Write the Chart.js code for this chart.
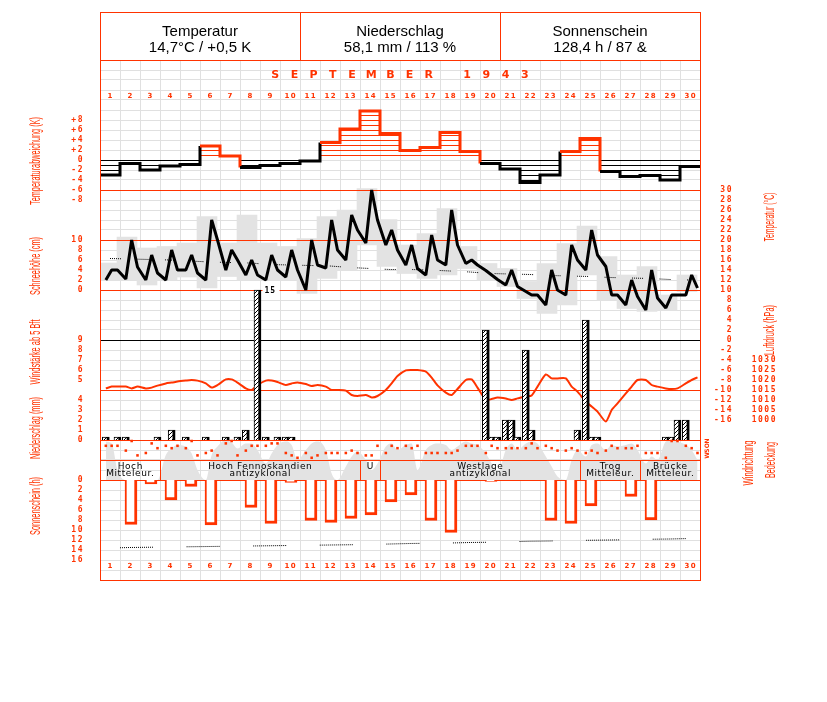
<!DOCTYPE html>
<html lang="de">
<head>
<meta charset="utf-8">
<title>September 1943</title>
<script src="https://cdn.jsdelivr.net/npm/chart.js@4.4.1/dist/chart.umd.min.js"></script>
<style>
  html, body { margin: 0; padding: 0; background: #fff; }
  canvas { display: block; }
</style>
</head>
<body>
<canvas id="monat" width="827" height="702"></canvas>
<script>
// ---- Werte ----
const dayNumbers = [1, 2, 3, 4, 5, 6, 7, 8, 9, 10, 11, 12, 13, 14, 15, 16, 17, 18, 19, 20, 21, 22, 23, 24, 25, 26, 27, 28, 29, 30];
const monthTitle = 'SEPTEMBER 1943';
const headerCells = [
  ['Temperatur', '14,7°C / +0,5 K'],
  ['Niederschlag', '58,1 mm / 113 %'],
  ['Sonnenschein', '128,4 h / 87 &']
];
const obsHours = [7, 14, 21];   // Terminbeobachtungen

// Tagesabweichung der Temperatur (K)
const tempAnomaly = [-3, -0.7, -2, -1.2, -0.9, 2.8, 0.8, -1.5, -1.1, -0.7, -0.2, 3.5, 6.2, 9.8, 5.3,
  1.9, 2.5, 5.5, 1.7, -0.7, -1.8, -4.5, -3, 1.7, 4.3, -2.3, -3.3, -3.1, -4, -1.3];
// Temperatur 7h/14h/21h (°C)
const tempObs = [
  12, 14, 14,   12.2, 20, 14.6,   12, 17, 13.4,   12, 18, 14,   14, 17, 13.4,
  12, 24, 20,   14, 18, 16,       13, 16, 13,     12, 17, 14,   12.6, 18, 14,
  10, 20, 15,   14.4, 24, 18,     16, 25, 22,     19.4, 30, 24, 19, 22, 18,
  15, 19, 14.3, 13, 21, 16,       15, 26, 19,     15.3, 16, 15, 13.9, 13, 12.1,
  11, 14, 10.7, 9.7, 9, 9,        7, 14, 10,      9, 19, 16,    14, 22, 17,
  14.7, 9, 9,   7, 12, 8.7,       6, 14, 8.4,     6.4, 9, 9,    9, 13, 10.4
];
const tempMin = [12, 12, 11, 12, 12.6, 10.4, 12.7, 12, 12, 12, 9.3, 12.3, 14, 19, 14.7,
  13.3, 12.3, 13, 14.3, 12, 10.7, 8.3, 5.3, 7, 13, 8, 6.3, 5.7, 6, 9.7];
const tempMax = [15.4, 20.6, 18.4, 18.7, 19.4, 24.7, 19.4, 25, 19.4, 18.7, 20.3, 24.7, 26, 30.3, 24.1,
  19, 21.3, 26.3, 18.7, 15.3, 14.3, 11.7, 15.3, 19.3, 22.8, 16.7, 13, 14.7, 9, 13];
const tempNormal = [16.3, 16.2, 16.1, 16.0, 15.8, 15.6, 15.5, 15.4, 15.1, 15.0, 14.9, 14.8, 14.5, 14.3, 14.1,
  14.1, 14.0, 13.8, 13.6, 13.3, 13.2, 13.1, 12.9, 12.8, 12.7, 12.5, 12.4, 12.3, 12.1, 12.0];
// Niederschlag je Termin (mm)
const precipObs = [
  0.3, 0, 0.3,  0.3, 0, 0,  0, 0, 0.3,  0, 1, 0,  0.3, 0, 0,
  0.3, 0, 0,    0.3, 0, 0.3, 1, 0, 15,  0.3, 0, 0.3, 0.3, 0.3, 0,
  0, 0, 0,  0, 0, 0,  0, 0, 0,  0, 0, 0,  0, 0, 0,
  0, 0, 0,  0, 0, 0,  0, 0, 0,  0, 0, 0,  11, 0.3, 0.3,
  2, 2, 0.3,  9, 1, 0,  0, 0, 0,  0, 0, 1,  12, 0.3, 0.3,
  0, 0, 0,  0, 0, 0,  0, 0, 0,  0.3, 0.3, 2,  2, 0, 0
];
// Luftdruck je Termin (hPa)
const pressureObs = [
  1015.8, 1016.7, 1016.7,  1016.7, 1015.8, 1016.7,  1015.8, 1016.2, 1017.2,  1018.3, 1018.7, 1019.2,  1019.7, 1020, 1019.7,
  1018.3, 1016.2, 1017.5,  1020.3, 1020.3, 1018.7,  1015.8, 1015, 1017.5,    1019.7, 1019.7, 1019,    1017.5, 1018.3, 1018.8,
  1018, 1017, 1017.5,      1016.7, 1015, 1015,      1014.7, 1012.5, 1012,    1012.5, 1011.3, 1012,    1015, 1018.3, 1022,
  1024.8, 1025, 1025,      1024.2, 1021.2, 1017.3,  1013.7, 1012.5, 1015.5,  1020, 1020.3, 1016.2,    1010, 1010.5, 1011.2,
  1010.7, 1010, 1010.8,    1011.7, 1012.3, 1016.7,  1022.8, 1020.8, 1020.8,  1020.8, 1016.7, 1014.2,  1009.2, 1006.7, 1004.2,
  999.2, 1005, 1008.3,     1013.3, 1016.7, 1020,    1020, 1017.5, 1016.7,    1015.8, 1015.5, 1015.8,  1018.3, 1020, 1021.3
];
// Bedeckung je Termin (Achtel)
const cloudObs = [
  7.7, 7.3, 2,  0, 0, 0,  0, 0, 0,  5, 6.3, 7,  6.7, 5.3, 2,
  0, 5, 6.7,  8, 7.5, 6.3,  7.3, 7.3, 6,  3.3, 5.3, 7,  7.7, 7, 4,
  6, 7.3, 7.7,  6, 1.3, 0,  2.7, 4.7, 5.7,  4, 2, 3.3,  6.7, 7.3, 6,
  7, 7.3, 2,  6, 7, 7.3,  7, 6, 6.7,  7.7, 7.3, 7,  5.3, 3.3, 1.3,
  6, 7.3, 6,  7.3, 7.7, 7.3,  4.7, 2.7, 0.7,  0, 4, 6,  4.7, 7, 7.3,
  6, 7, 6.7,  7, 7.3, 6,  3.3, 4.7, 4,  7.7, 8, 7.7,  7, 6, 4
];
// Windrichtung je Termin (0 = N, 2 = O, 4 = S, 6 = W)
const windDirObs = [
  2, 2, 2,  4, 0, 6,  5, 1, 3,  2, 3, 2,  3, 0, 6,
  5, 4, 6,  1, 0, 6,  4, 2, 2,  2, 1, 1,  5, 6, 7,
  5, 7, 6,  5, 5, 5,  5, 4, 5,  6, 6, 2,  5, 2, 3,
  2, 3, 2,  5, 5, 5,  5, 5, 4,  2, 2, 2,  5, 2, 3,
  3, 3, 3,  3, 1, 3,  2, 3, 4,  4, 3, 4,  5, 4, 5,
  4, 2, 3,  3, 3, 2,  5, 5, 5,  7, 0, 0,  2, 3, 5
];
const windDirLabels = ['N', 'O', 'S', 'W'];
const windDirLabelIdx = [0, 2, 4, 6];
// Sonnenscheindauer (h) und astronomisch mögliche Dauer
const sunshineHours = [0, 8.9, 0.8, 4, 1.3, 9, 0, 5.5, 8.7, 0.5, 8.1, 8.5, 7.7, 7, 4.4,
  3, 8.1, 10.5, 0, 0.3, 0, 0, 8.1, 8.7, 5.2, 0, 3.3, 8, 0, 0];
const sunshinePossible = [13.6, 13.5, 13.45, 13.4, 13.35, 13.3, 13.25, 13.2, 13.15, 13.1, 13.05, 13.0, 12.95, 12.9, 12.8,
  12.7, 12.65, 12.6, 12.5, 12.45, 12.35, 12.25, 12.2, 12.1, 12.05, 12.0, 11.95, 11.85, 11.8, 11.7];
// Großwetterlagen
const weatherTypes = [
  { first: 1, last: 3, text: ['Hoch', 'Mitteleur.'] },
  { first: 4, last: 13, text: ['Hoch Fennoskandien', 'antizyklonal'] },
  { first: 14, last: 14, text: ['U'] },
  { first: 15, last: 24, text: ['Westlage', 'antizyklonal'] },
  { first: 25, last: 27, text: ['Trog', 'Mitteleur.'] },
  { first: 28, last: 30, text: ['Brücke', 'Mitteleur.'] }
];
// Achsbeschriftungen
const anomalyTicks = [8, 6, 4, 2, 0, -2, -4, -6, -8];
const snowTicks = [10, 8, 6, 4, 2, 0];
const windForceTicks = [9, 8, 7, 6, 5];
const precipTicks = [4, 3, 2, 1, 0];
const sunTicks = [0, 2, 4, 6, 8, 10, 12, 14, 16];
const tempTicks = [30, 28, 26, 24, 22, 20, 18, 16, 14, 12, 10, 8, 6, 4, 2, 0, -2, -4, -6, -8, -10, -12, -14, -16];
const pressureTicks = [1030, 1025, 1020, 1015, 1010, 1005, 1000];
const tempRefLines = [30, 20, 10];

const RED = '#ff3300';
const GREY = '#e3e3e3';
const GRID = '#e0e0e0';

function slotX(i) { return Math.floor(i / 3) + obsHours[i % 3] / 24; }

// Schraffuren
function hatchH(color) {
  const c = document.createElement('canvas');
  c.width = 4; c.height = 5;
  const g = c.getContext('2d');
  g.fillStyle = color;
  g.fillRect(0, 0, 4, 1);
  return g.createPattern(c, 'repeat');
}
function hatchD() {
  const c = document.createElement('canvas');
  c.width = 4; c.height = 4;
  const g = c.getContext('2d');
  g.fillStyle = '#fff'; g.fillRect(0, 0, 4, 4);
  g.fillStyle = '#000';
  for (let i = 0; i < 4; i++) g.fillRect(i, 3 - i, 1, 1);
  return g.createPattern(c, 'repeat');
}
function dotted(run, gap) {
  const a = [];
  for (let i = 0; i < run / 2; i++) a.push(1, 1);
  a[a.length - 1] = gap;
  return a;
}

const datasets = [
  {
    label: 'Tmin/Tmax', type: 'bar', yAxisID: 't', order: 20,
    data: tempMin.map((lo, i) => ({ x: i + 0.35, y: [lo, tempMax[i]] })),
    backgroundColor: GREY, borderWidth: 0, barThickness: 20, grouped: false
  },
  {
    label: 'Bedeckung', type: 'line', yAxisID: 'cov', order: 19,
    data: cloudObs.map((v, i) => ({ x: slotX(i), y: v })),
    fill: 'origin', backgroundColor: GREY, borderWidth: 0, pointRadius: 0,
    cubicInterpolationMode: 'monotone'
  },
  {
    label: 'Sonnenschein möglich', type: 'line', yAxisID: 'sun', order: 9,
    data: sunshinePossible.map((v, i) => ({ x: i + 0.5, y: v })),
    borderColor: '#000', borderWidth: 1, borderDash: dotted(34, 33.6), borderDashOffset: 56.6,
    pointRadius: 0, fill: false
  },
  {
    label: 'Sonnenschein', type: 'bar', yAxisID: 'sun', order: 8,
    data: sunshineHours.map((v, i) => ({ x: i + 0.55, y: v > 0 ? v : null })),
    backgroundColor: '#fff', borderColor: RED,
    borderWidth: { left: 2, right: 3, bottom: 3, top: 0 }, borderSkipped: 'start',
    barThickness: 12, grouped: false
  },
  {
    label: 'Normal', type: 'line', yAxisID: 't', order: 7,
    data: tempNormal.map((v, i) => ({ x: i + 0.5, y: v })),
    borderColor: '#000', borderWidth: 1, borderDash: dotted(11, 16.5),
    pointRadius: 0, fill: false
  },
  {
    label: 'Abweichung', type: 'line', yAxisID: 'ta', order: 6,
    data: tempAnomaly.map((v, i) => ({ x: i, y: v })).concat([{ x: 30, y: tempAnomaly[tempAnomaly.length - 1] }]),
    stepped: true, borderWidth: 3, borderColor: RED,
    segment: { borderColor: c => (c.p0.parsed.y < 0 ? '#000' : RED) },
    fill: { target: 'origin', above: hatchH(RED), below: hatchH('#000') },
    pointRadius: 0
  },
  {
    label: 'Luftdruck', type: 'line', yAxisID: 'hpa', order: 5,
    data: pressureObs.map((v, i) => ({ x: slotX(i), y: v })),
    borderColor: RED, borderWidth: 2, pointRadius: 0, fill: false, tension: 0.2
  },
  {
    label: 'Temperatur', type: 'line', yAxisID: 't', order: 3,
    data: tempObs.map((v, i) => ({ x: slotX(i), y: v })),
    borderColor: '#000', borderWidth: 3, pointRadius: 0, fill: false, borderJoinStyle: 'bevel'
  },
  {
    label: 'Niederschlag', type: 'bar', yAxisID: 'pr', order: 2,
    data: precipObs.map((v, i) => ({ x: slotX(i), y: v > 0 ? v : null })),
    backgroundColor: hatchD(), borderColor: '#000',
    borderWidth: { top: 1, left: 1, right: 3, bottom: 0 },
    barThickness: 7, grouped: false
  },
  {
    label: 'Windrichtung', type: 'line', yAxisID: 'wd', order: 1,
    data: windDirObs.map((v, i) => ({ x: slotX(i), y: v })),
    showLine: false, pointStyle: 'rect', pointRadius: 1.8,
    pointBackgroundColor: RED, pointBorderWidth: 0
  }
];

function lin(min, max, extra) {
  return Object.assign({ type: 'linear', axis: 'y', position: 'left', display: false, min: min, max: max }, extra || {});
}

// ---- Zeichenhilfen ----
function hline(ctx, y, x0, x1, color, w) {
  ctx.save();
  ctx.strokeStyle = color; ctx.lineWidth = w || 1;
  ctx.beginPath();
  ctx.moveTo(x0, Math.round(y) + 0.5); ctx.lineTo(x1, Math.round(y) + 0.5);
  ctx.stroke();
  ctx.restore();
}
function vline(ctx, x, y0, y1, color) {
  ctx.save();
  ctx.strokeStyle = color; ctx.lineWidth = 1;
  ctx.beginPath();
  ctx.moveTo(Math.round(x) + 0.5, y0); ctx.lineTo(Math.round(x) + 0.5, y1);
  ctx.stroke();
  ctx.restore();
}
function rotText(ctx, s, cx, cy, len, font, color) {
  ctx.save();
  ctx.translate(cx, cy);
  ctx.rotate(-Math.PI / 2);
  ctx.font = font;
  const w = ctx.measureText(s).width;
  ctx.scale(len / w, 1);
  ctx.fillStyle = color;
  ctx.textAlign = 'center';
  ctx.textBaseline = 'middle';
  ctx.fillText(s, 0, 0);
  ctx.restore();
}
function tickColumn(ctx, scale, values, fmt, xRight) {
  ctx.save();
  ctx.font = 'bold 8px "DejaVu Sans Mono"';
  ctx.letterSpacing = '1.5px';
  ctx.fillStyle = RED;
  ctx.textAlign = 'right';
  ctx.textBaseline = 'middle';
  values.forEach(v => ctx.fillText(fmt(v), xRight, scale.getPixelForValue(v)));
  ctx.restore();
}

function referenceLines(chart) {
  const ctx = chart.ctx, a = chart.chartArea, s = chart.scales;
  tempRefLines.forEach(v => hline(ctx, s.t.getPixelForValue(v), a.left, a.right, RED));
  hline(ctx, s.t.getPixelForValue(0), a.left, a.right, '#000');
  hline(ctx, s.hpa.getPixelForValue(1015), a.left, a.right, RED);
  hline(ctx, s.pr.getPixelForValue(0), a.left, a.right, RED);
  hline(ctx, s.cov.getPixelForValue(4), a.left, a.right, RED);
  hline(ctx, s.cov.getPixelForValue(0), a.left, a.right, RED);
}

function weatherRow(chart) {
  const ctx = chart.ctx, s = chart.scales;
  const top = s.cov.getPixelForValue(4), bottom = s.cov.getPixelForValue(0);
  ctx.save();
  ctx.font = '9px "DejaVu Sans"';
  ctx.letterSpacing = '0.6px';
  ctx.fillStyle = '#000';
  ctx.textAlign = 'center';
  ctx.textBaseline = 'middle';
  weatherTypes.forEach(w => {
    const x0 = s.x.getPixelForValue(w.first - 1), x1 = s.x.getPixelForValue(w.last);
    if (w.first > 1) vline(ctx, x0, top, bottom, RED);
    w.text.forEach((t, k) => ctx.fillText(t, (x0 + x1) / 2 + 0.3, top + 6.5 + k * 7.5));
  });
  ctx.restore();
}

function precipCapLabel(chart) {
  const ctx = chart.ctx, s = chart.scales;
  const capY = s.t.getPixelForValue(10);
  const cap = s.pr.getValueForPixel(capY);
  ctx.save();
  ctx.font = 'bold 8px "DejaVu Sans Mono"';
  ctx.letterSpacing = '1px';
  ctx.textBaseline = 'middle';
  precipObs.forEach((v, i) => {
    if (v < cap - 0.01) return;
    const x = s.x.getPixelForValue(slotX(i)) + 5;
    ctx.fillStyle = '#fff';
    ctx.fillRect(x, capY - 4, 17, 9);
    ctx.fillStyle = '#000';
    ctx.fillText(String(v), x + 2, capY + 1);
  });
  ctx.restore();
}

function frameAndLabels(chart) {
  const ctx = chart.ctx, a = chart.chartArea, s = chart.scales;
  const headTop = 12;
  // Rahmen und Kopf
  ctx.save();
  ctx.strokeStyle = RED; ctx.lineWidth = 1;
  ctx.strokeRect(a.left + 0.5, headTop + 0.5, a.right - a.left, a.bottom - headTop);
  ctx.restore();
  hline(ctx, a.top, a.left, a.right, RED);
  vline(ctx, s.x.getPixelForValue(10), headTop, a.top, RED);
  vline(ctx, s.x.getPixelForValue(20), headTop, a.top, RED);
  ctx.save();
  ctx.font = '15px "Liberation Sans"';
  ctx.fillStyle = '#000';
  ctx.textAlign = 'center';
  ctx.textBaseline = 'middle';
  headerCells.forEach((c, k) => {
    const cx = s.x.getPixelForValue(5 + 10 * k);
    ctx.fillText(c[0], cx, 32);
    ctx.fillText(c[1], cx, 48);
  });
  ctx.restore();

  // Monatstitel
  ctx.save();
  ctx.font = 'bold 11px "DejaVu Sans"';
  ctx.fillStyle = RED;
  ctx.textAlign = 'center';
  ctx.textBaseline = 'middle';
  const mid = s.x.getPixelForValue(15);
  const chars = monthTitle.split('');
  chars.forEach((ch, k) => ctx.fillText(ch, mid + (k - (chars.length - 1) / 2) * 19.2, 75));
  ctx.restore();

  // Tageszahlen oben und unten
  ctx.save();
  ctx.font = 'bold 7px "DejaVu Sans"';
  ctx.letterSpacing = '1.5px';
  ctx.fillStyle = RED;
  ctx.textAlign = 'center';
  ctx.textBaseline = 'middle';
  dayNumbers.forEach(d => {
    const x = s.x.getPixelForValue(d - 0.5) + 0.75;
    ctx.fillText(String(d), x, 96);
    ctx.fillText(String(d), x, 566);
  });
  ctx.restore();

  // Achsbeschriftungen links
  const signed = v => (v > 0 ? '+' + v : String(v));
  tickColumn(ctx, s.ta, anomalyTicks, signed, 84);
  tickColumn(ctx, s.sn, snowTicks, String, 84);
  tickColumn(ctx, s.ws, windForceTicks, String, 84);
  tickColumn(ctx, s.pr, precipTicks, String, 84);
  tickColumn(ctx, s.sun, sunTicks, String, 84);
  // rechts
  tickColumn(ctx, s.t, tempTicks, String, 733);
  tickColumn(ctx, s.hpa, pressureTicks, String, 777);

  // Windrichtungs-Kennung
  ctx.save();
  ctx.font = 'bold 6px "DejaVu Sans"';
  ctx.fillStyle = RED;
  windDirLabels.forEach((lab, k) => {
    const y = s.wd.getPixelForValue(windDirLabelIdx[k]);
    ctx.save();
    ctx.translate(707, y);
    ctx.rotate(-Math.PI / 2);
    ctx.textAlign = 'center';
    ctx.textBaseline = 'middle';
    ctx.fillText(lab, 0, 0);
    ctx.restore();
  });
  ctx.restore();

  // Achstitel
  const tf = '14px "Liberation Sans"';
  rotText(ctx, 'Temperaturabweichung (K)', 36, 161, 88, tf, RED);
  rotText(ctx, 'Schneehöhe (cm)', 36, 266, 58, tf, RED);
  rotText(ctx, 'Windstärke ab 5 Bft', 36, 352, 65, tf, RED);
  rotText(ctx, 'Niederschlag (mm)', 36, 428, 62, tf, RED);
  rotText(ctx, 'Sonnenschein (h)', 36, 506, 58, tf, RED);
  rotText(ctx, 'Temperatur (°C)', 770, 217, 49, tf, RED);
  rotText(ctx, 'Luftdruck (hPa)', 770, 330, 50, tf, RED);
  rotText(ctx, 'Windrichtung', 749, 463, 45, tf, RED);
  rotText(ctx, 'Bedeckung', 771, 460, 36, tf, RED);
}

const decor = {
  id: 'decor',
  afterDatasetDraw(chart, args) {
    if (chart.data.datasets[args.index].label === 'Bedeckung') referenceLines(chart);
  },
  afterDatasetsDraw(chart) {
    weatherRow(chart);
    precipCapLabel(chart);
  },
  afterDraw(chart) {
    frameAndLabels(chart);
  }
};

new Chart(document.getElementById('monat'), {
  type: 'line',
  data: { datasets: datasets },
  options: {
    responsive: false,
    animation: false,
    devicePixelRatio: 1,
    layout: { padding: { left: 100, right: 127, top: 60, bottom: 122 } },
    plugins: { legend: { display: false }, tooltip: { enabled: false } },
    scales: {
      x: {
        type: 'linear', min: 0, max: 30, offset: false,
        ticks: { display: false, stepSize: 1, maxTicksLimit: 100, autoSkip: false },
        grid: { color: GRID, drawTicks: false, offset: false },
        border: { display: false }
      },
      g: {
        type: 'linear', axis: 'y', position: 'left', min: 0, max: 52,
        ticks: { display: false, stepSize: 1, maxTicksLimit: 100 },
        grid: { color: GRID, drawTicks: false },
        border: { display: false }
      },
      ta: lin(-84, 20),
      t: lin(-48, 56),
      sn: lin(-58, 46),
      ws: lin(-15, 37),
      pr: lin(-14, 38),
      hpa: lin(920, 1180),
      cov: lin(-20, 84),
      wd: lin(-158.75, 57.92, { reverse: true }),
      sun: lin(-84, 20, { reverse: true })
    }
  },
  plugins: [decor]
});
</script>
</body>
</html>
